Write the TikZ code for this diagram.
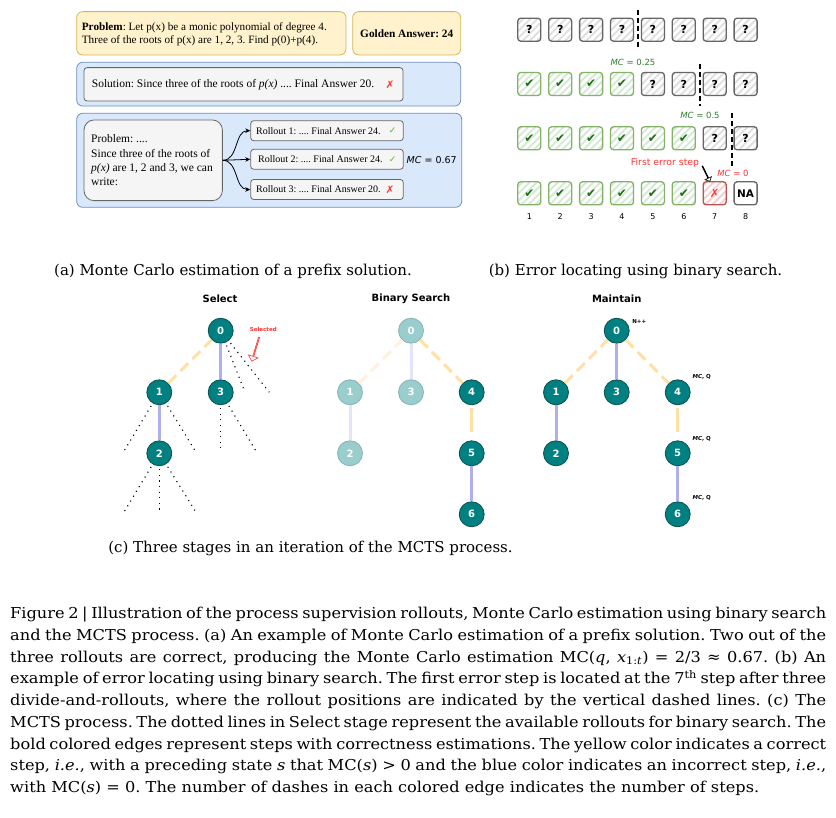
\documentclass[tikz,border=0pt]{standalone}
\usepackage{fontspec}
\setmainfont{Liberation Serif}
\newfontfamily\djs{DejaVu Sans}
\newfontfamily\djserif{DejaVu Serif}
\newfontfamily\capfont[FakeStretch=1.08]{DejaVu Serif}
\usetikzlibrary{patterns.meta,shapes.arrows,arrows.meta}
\definecolor{yfill}{HTML}{FFF2CC}
\definecolor{ydraw}{HTML}{D6B656}
\definecolor{bfill}{HTML}{DAE8FC}
\definecolor{bdraw}{HTML}{6C8EBF}
\definecolor{gfill}{HTML}{F5F5F5}
\definecolor{gdraw}{HTML}{666666}
\definecolor{okgreen}{HTML}{82B366}
\definecolor{okhatch}{HTML}{D5E8D4}
\definecolor{chk}{HTML}{1B6E14}
\definecolor{lightchk}{HTML}{5CB82E}
\definecolor{errred}{HTML}{B85450}
\definecolor{errhatch}{HTML}{F8CECC}
\definecolor{xred}{HTML}{FF3333}
\definecolor{tealA}{HTML}{008080}
\definecolor{tealAd}{HTML}{0B4F4F}
\definecolor{tealF}{HTML}{9ACDCD}
\definecolor{tealFd}{HTML}{86B3B3}
\definecolor{edgey}{HTML}{FFE0A6}
\definecolor{edgeb}{HTML}{AFAFF0}
\definecolor{edgeyf}{HTML}{FFF1DA}
\definecolor{edgebf}{HTML}{E3E3FA}
\definecolor{mcgreen}{HTML}{2E7D32}
\begin{document}
\frenchspacing
\begin{tikzpicture}[x=1pt,y=-1pt,
  ybox/.style={draw=ydraw, fill=yfill, rounded corners=6pt, line width=0.8pt},
  bbox/.style={draw=bdraw, fill=bfill, rounded corners=6pt, line width=0.8pt},
  gbox/.style={draw=gdraw, fill=gfill, rounded corners=3pt, line width=0.8pt},
  atext/.style={font=\fontsize{11.2}{13.3}\selectfont, align=left, inner sep=0pt},
  stext/.style={font=\fontsize{11.5}{13.3}\selectfont, align=left, inner sep=0pt},
  rtext/.style={font=\fontsize{10}{12}\selectfont, align=left, inner sep=0pt, anchor=west},
  arr/.style={-{Stealth[length=5pt,width=4.5pt]}, line width=0.8pt},
  sq/.style={draw=gdraw, rounded corners=3pt, line width=1.3pt, minimum size=23pt, inner sep=0pt,
    pattern={Lines[angle=45,distance=5pt,line width=1.8pt]}, pattern color=black!13,
    font=\djs\bfseries\fontsize{11}{11}\selectfont},
  sqok/.style={sq, draw=okgreen, pattern color=okhatch, text=chk, font=\djs\fontsize{12}{12}\selectfont},
  sqerr/.style={sq, draw=errred, pattern color=errhatch, text=xred, font=\djs\fontsize{11.5}{12}\selectfont},
  sqna/.style={draw=gdraw, fill=white, rounded corners=3pt, line width=1.3pt, minimum size=23pt, inner sep=0pt,
    font=\djs\bfseries\fontsize{10.5}{10}\selectfont},
  divider/.style={line width=1.6pt, dash pattern=on 5pt off 3pt},
  numlab/.style={font=\djs\fontsize{8}{8}\selectfont},
  mclab/.style={font=\djs\fontsize{8.5}{9}\selectfont},
  tnode/.style={circle, fill=tealA, draw=tealAd, line width=0.8pt, minimum size=25pt, inner sep=0pt, text=white, font=\djs\bfseries\fontsize{10}{10}\selectfont},
  tfade/.style={tnode, fill=tealF, draw=tealFd},
  ey/.style={draw=edgey, line width=3pt, dash pattern=on 11pt off 6pt},
  eyf/.style={draw=edgeyf, line width=3pt, dash pattern=on 11pt off 6pt},
  eyone/.style={draw=edgey, line width=3pt, shorten <=3pt, shorten >=8pt},
  eb/.style={draw=edgeb, line width=3pt},
  ebf/.style={draw=edgebf, line width=3pt},
  dots/.style={line width=1.1pt, dash pattern=on 1.1pt off 4.5pt, shorten <=3pt},
  title/.style={font=\djs\bfseries\fontsize{10}{10}\selectfont},
  tiny/.style={font=\djs\bfseries\fontsize{5.5}{6}\selectfont},
  subcap/.style={font=\djserif\fontsize{15}{16}\selectfont}
]
\useasboundingbox[fill=white] (0,0) rectangle (836,818);

% ---------------- panel (a) ----------------
\node[ybox, minimum width=269.3pt, minimum height=43.3pt] (prob) at (211.3,33.3) {};
\node[atext, anchor=west] (probt) at (81.7,34.3) {\textbf{Problem}: Let p(x) be a monic polynomial of degree 4.\\Three of the roots of p(x) are 1, 2, 3. Find p(0)+p(4).};
\node[ybox, minimum width=108pt, minimum height=43.3pt, font=\bfseries\fontsize{11.3}{13}\selectfont] (gold) at (406.7,33.3) {Golden Answer: 24};

\node[bbox, minimum width=384pt, minimum height=43.7pt] (solbg) at (268.7,84.2) {};
\node[gbox, minimum width=319pt, minimum height=33.3pt] (sol) at (243.5,84.3) {};
\node[stext, anchor=west] (solt) at (91.7,84.3) {Solution: Since three of the roots of \textit{p(x)} .... Final Answer 20.};
\node[font=\djs\fontsize{10.5}{10}\selectfont, text=xred] (solx) at (390,84.3) {✗};

\node[bbox, minimum width=385pt, minimum height=94pt] (rollbg) at (269.2,160.3) {};
\node[gbox, rounded corners=10pt, minimum width=138.3pt, minimum height=80.7pt] (pref) at (153.2,160.3) {};
\node[anchor=west, align=left, inner sep=0pt, font=\fontsize{11.5}{14.3}\selectfont] (preft) at (91,160.3) {Problem: ....\\Since three of the roots of\\\textit{p(x)} are 1, 2 and 3, we can\\write:};

\node[gbox, minimum width=152.6pt, minimum height=20pt] (r1) at (327,130.7) {};
\node[gbox, minimum width=152.6pt, minimum height=20pt] (r2) at (327,159.3) {};
\node[gbox, minimum width=152.6pt, minimum height=20pt] (r3) at (327,189.5) {};
\node[rtext] (r1t) at (256,130.7) {Rollout 1: .... Final Answer 24.};
\node[rtext] (r2t) at (258,159.3) {Rollout 2: .... Final Answer 24.};
\node[rtext] (r3t) at (256,189.5) {Rollout 3: .... Final Answer 20.};
\node[font=\djs\fontsize{9}{9}\selectfont, text=lightchk] (c1) at (392.7,130.7) {✓};
\node[font=\djs\fontsize{9}{9}\selectfont, text=lightchk] (c2) at (392.7,159.3) {✓};
\node[font=\djs\fontsize{10.5}{10}\selectfont, text=xred] (c3) at (390,189.5) {✗};
\draw[arr] (pref.east) to[out=0,in=180] (r1.west);
\draw[arr] (pref.east) -- (r2.west);
\draw[arr] (pref.east) to[out=0,in=180] (r3.west);
\node[font=\djs\fontsize{9.5}{10}\selectfont] (mc) at (431.7,160) {\textit{MC} = 0.67};

\node[subcap] (capa) at (233,271) {(a) Monte Carlo estimation of a prefix solution.};

% ---------------- panel (b) ----------------
\foreach \i in {1,...,8}
  \node[sq] (q1c\i) at ({529.3+30.9*(\i-1)},29.7) {?};
\foreach \i in {1,...,4}
  \node[sqok] (q2c\i) at ({529.3+30.9*(\i-1)},84) {✔};
\foreach \i in {5,...,8}
  \node[sq] (q2c\i) at ({529.3+30.9*(\i-1)},84) {?};
\foreach \i in {1,...,6}
  \node[sqok] (q3c\i) at ({529.3+30.9*(\i-1)},138.3) {✔};
\foreach \i in {7,8}
  \node[sq] (q3c\i) at ({529.3+30.9*(\i-1)},138.3) {?};
\foreach \i in {1,...,6}
  \node[sqok] (q4c\i) at ({529.3+30.9*(\i-1)},193.3) {✔};
\node[sqerr] (q4c7) at (714.7,193.3) {✗};
\node[sqna] (q4c8) at (745.6,193.3) {NA};
\foreach \i in {1,...,8}
  \node[numlab] (n\i) at ({529.3+30.9*(\i-1)},216.7) {\i};

\coordinate (d1t) at (637.7,10);  \coordinate (d1b) at (637.7,49);
\coordinate (d2t) at (700,64);    \coordinate (d2b) at (700,106);
\coordinate (d3t) at (731.7,113); \coordinate (d3b) at (731.7,167);
\draw[divider] (d1t) -- (d1b);
\draw[divider] (d2t) -- (d2b);
\draw[divider] (d3t) -- (d3b);
\node[mclab, text=mcgreen] (mc1) at (633,62) {\textit{MC} = 0.25};
\node[mclab, text=mcgreen] (mc2) at (700,115) {\textit{MC} = 0.5};
\node[mclab, text=xred] (mc3) at (733,173.5) {\textit{MC} = 0};
\node[font=\djs\fontsize{9.3}{9}\selectfont, text=xred] (fes) at (665,162.7) {First error step};
\node[single arrow, draw=black, fill=white, line width=0.6pt, minimum height=17pt, minimum width=7pt,
  single arrow head extend=2pt, inner sep=0pt, rotate=-64] (fesarr) at (706,173.5) {};

\node[subcap] (capb) at (635.5,271) {(b) Error locating using binary search.};

% ---------------- panel (c) ----------------
\node[title] (tsel) at (220,299) {Select};
\node[title] (tbin) at (411,299) {Binary Search};
\node[title] (tmai) at (616.7,299) {Maintain};

% Select
\node[tnode] (s0) at (220.7,330.7) {0};
\node[tnode] (s1) at (159.3,392.3) {1};
\node[tnode] (s3) at (220.7,392.3) {3};
\node[tnode] (s2) at (159.3,453.3) {2};
\draw[ey] (s1) -- (s0);
\draw[eb] (s0) -- (s3);
\draw[eb] (s1) -- (s2);
\coordinate (e01) at (245,392.3);   \coordinate (e02) at (269.3,392.3);
\coordinate (e11) at (123.3,452.3); \coordinate (e12) at (196.7,453.3);
\coordinate (e31) at (220.7,452.3); \coordinate (e32) at (256.7,452.3);
\coordinate (e21) at (123.3,513.3); \coordinate (e22) at (159.3,513.3); \coordinate (e23) at (196.7,513.3);
\draw[dots] (s0) -- (e01);
\draw[dots] (s0) -- (e02);
\draw[dots] (s1) -- (e11);
\draw[dots] (s1) -- (e12);
\draw[dots] (s3) -- (e31);
\draw[dots] (s3) -- (e32);
\draw[dots] (s2) -- (e21);
\draw[dots] (s2) -- (e22);
\draw[dots] (s2) -- (e23);
\node[font=\djs\bfseries\fontsize{5.5}{6}\selectfont, text=xred] (selt) at (263.3,329) {Selected};
\node[single arrow, draw=xred, fill=white, line width=0.6pt, minimum height=25pt, minimum width=10pt,
  single arrow head extend=2.5pt, inner sep=0pt, rotate=-107] (selarr) at (255.5,349) {};

% Binary search
\node[tfade] (b0) at (411,330.7) {0};
\node[tfade] (b1) at (350,392.3) {1};
\node[tfade] (b3) at (411,392.3) {3};
\node[tnode] (b4) at (471.7,392.3) {4};
\node[tfade] (b2) at (350,453.3) {2};
\node[tnode] (b5) at (471.7,453.3) {5};
\node[tnode] (b6) at (471.7,514.3) {6};
\draw[eyf] (b1) -- (b0);
\draw[ebf] (b0) -- (b3);
\draw[ebf] (b1) -- (b2);
\draw[ey] (b0) -- (b4);
\draw[eyone] (b4) -- (b5);
\draw[eb] (b5) -- (b6);

% Maintain
\node[tnode] (m0) at (616.7,330.7) {0};
\node[tnode] (m1) at (556,392.3) {1};
\node[tnode] (m3) at (616.7,392.3) {3};
\node[tnode] (m4) at (677.7,392.3) {4};
\node[tnode] (m2) at (556,453.3) {2};
\node[tnode] (m5) at (677.7,453.3) {5};
\node[tnode] (m6) at (677.7,514.3) {6};
\draw[ey] (m1) -- (m0);
\draw[eb] (m0) -- (m3);
\draw[eb] (m1) -- (m2);
\draw[ey] (m0) -- (m4);
\draw[eyone] (m4) -- (m5);
\draw[eb] (m5) -- (m6);
\node[tiny] (npp) at (639.3,321.7) {N++};
\node[tiny] (mq4) at (701.7,377.3) {\textit{MC}, Q};
\node[tiny] (mq5) at (701.7,439) {\textit{MC}, Q};
\node[tiny] (mq6) at (701.7,498.3) {\textit{MC}, Q};

\node[subcap] (capc) at (310.5,548) {(c) Three stages in an iteration of the MCTS process.};

% ---------------- caption ----------------
\node[anchor=north west, align=left, inner sep=0pt, font=\capfont\fontsize{15}{21.75}\selectfont] (cap) at (10,607) {%
\makebox[816pt][s]{Figure 2 \textbar{} Illustration of the process supervision rollouts, Monte Carlo estimation using binary search}\\
\makebox[816pt][s]{and the MCTS process. (a) An example of Monte Carlo estimation of a prefix solution. Two out of the}\\
\makebox[816pt][s]{three rollouts are correct, producing the Monte Carlo estimation MC(\textit{q}, \textit{x}\textsubscript{1:\textit{t}}) = 2/3 ≈ 0.67. (b) An}\\
\makebox[816pt][s]{example of error locating using binary search. The first error step is located at the 7\textsuperscript{th} step after three}\\
\makebox[816pt][s]{divide-and-rollouts, where the rollout positions are indicated by the vertical dashed lines. (c) The}\\
\makebox[816pt][s]{MCTS process. The dotted lines in Select stage represent the available rollouts for binary search. The}\\
\makebox[816pt][s]{bold colored edges represent steps with correctness estimations. The yellow color indicates a correct}\\
\makebox[816pt][s]{step, \textit{i.e.}, with a preceding state \textit{s} that MC(\textit{s}) > 0 and the blue color indicates an incorrect step, \textit{i.e.},}\\
with MC(\textit{s}) = 0. The number of dashes in each colored edge indicates the number of steps.};
\end{tikzpicture}
\end{document}
